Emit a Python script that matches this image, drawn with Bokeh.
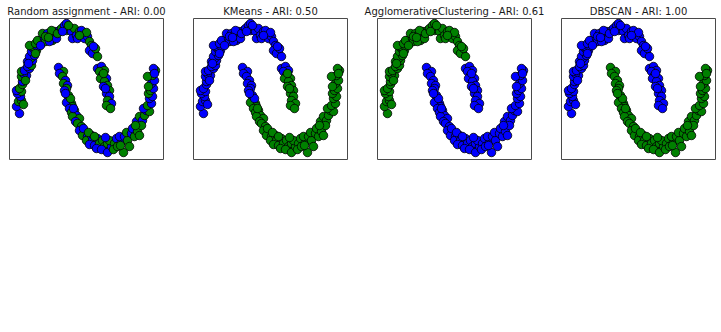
from bokeh.plotting import figure
from bokeh.layouts import row, column
from bokeh.models import Range1d, ColumnDataSource
from bokeh.embed import file_html
from bokeh.resources import INLINE

# Two-moons points (x to the right, y downward, frame units)
upper_x = [10, 7, 9, 12, 11, 8, 12, 7, 10, 14, 13, 13, 15, 12, 17, 14, 12, 15, 20, 18,
           22, 18, 23, 21, 20, 25, 22, 27, 24, 23, 28, 20, 26, 32, 30, 28, 35, 36, 33, 38,
           36, 42, 43, 40, 47, 45, 42, 50, 48, 52, 55, 57, 57, 60, 62, 63, 65, 67, 70, 68,
           73, 72, 75, 78, 77, 80, 82, 80, 85, 83, 88, 86, 88, 92, 95, 90, 93, 97, 91, 95,
           98, 94, 100, 97, 100, 98, 102, 97, 101, 94, 96, 16, 19, 26, 31, 39, 53, 59, 70, 84]
upper_y = [95, 88, 83, 82, 78, 75, 73, 72, 70, 86, 66, 63, 60, 58, 57, 55, 53, 52, 50, 48,
           47, 43, 42, 40, 38, 37, 33, 32, 30, 28, 28, 27, 25, 25, 22, 22, 20, 23, 15, 15,
           18, 17, 22, 23, 20, 13, 12, 12, 15, 10, 7, 5, 12, 10, 13, 20, 10, 17, 13, 20,
           17, 12, 20, 18, 14, 23, 27, 32, 32, 35, 38, 30, 50, 48, 52, 53, 57, 60, 60, 63,
           67, 68, 72, 75, 78, 82, 85, 87, 90, 55, 70, 62, 45, 35, 27, 19, 13, 7, 17, 28]
lower_x = [49, 54, 50, 53, 56, 54, 58, 57, 55, 59, 62, 57, 63, 60, 65, 62, 67, 63, 70, 66,
           68, 72, 70, 75, 73, 78, 77, 82, 83, 80, 85, 88, 90, 87, 93, 95, 92, 98, 98, 102,
           100, 105, 104, 107, 108, 112, 110, 114, 115, 118, 117, 120, 122, 125, 123, 128, 130, 127, 130, 133,
           132, 135, 137, 140, 134, 138, 142, 140, 143, 139, 141, 144, 142, 145, 143, 146, 144, 138, 59, 61,
           64, 74, 79, 96, 111, 126, 139, 145, 56, 85]
lower_y = [49, 53, 55, 58, 62, 65, 67, 70, 72, 82, 85, 84, 88, 90, 92, 94, 97, 98, 100, 103,
           105, 108, 112, 113, 117, 118, 122, 117, 122, 126, 127, 120, 125, 130, 122, 128, 131, 125, 134, 128,
           122, 125, 131, 120, 128, 123, 118, 134, 118, 122, 114, 128, 115, 118, 110, 113, 117, 103, 98, 102,
           107, 97, 92, 93, 90, 87, 85, 80, 78, 75, 72, 70, 65, 62, 57, 52, 50, 58, 77, 80,
           90, 110, 114, 119, 127, 107, 68, 55, 75, 118]

# Cluster labels per panel (0 = blue, 1 = green): upper-moon points, then lower-moon points
random_upper = ["0011001011", "1011001000", "1001000101", "0110010110", "1010011011",
                "0011001010", "0000111010", "1100110011", "1010010111", "0101010110"]
random_lower = ["0101010100", "1010110110", "1101101000", "0010110100", "1110100101",
                "1101011010", "1101010001", "1000110111", "0010111001"]
kmeans_upper = ["0" * 76, "1" * 15, "0" * 9]
kmeans_lower = ["0" * 10, "1" * 68, "00", "1" * 8, "01"]
agglo_upper = ["1" * 72, "0" * 19, "1" * 9]
agglo_lower = ["0" * 90]
dbscan_upper = ["0" * 100]
dbscan_lower = ["1" * 90]

titles = ["Random assignment - ARI: 0.00", "KMeans - ARI: 0.50",
          "AgglomerativeClustering - ARI: 0.61", "DBSCAN - ARI: 1.00"]
colors = ["#0000ff", "#008000"]

xs = upper_x + lower_x
ys = upper_y + lower_y
n = len(xs)


def labels(up, lo):
    s = "".join(up) + "".join(lo)
    s = (s + "0" * n)[:n]
    return [int(ch) for ch in s]


label_sets = [labels(random_upper, random_lower), labels(kmeans_upper, kmeans_lower),
              labels(agglo_upper, agglo_lower), labels(dbscan_upper, dbscan_lower)]

# (figure width, left border, right border) so frames sit at x = 9, 193, 377, 561
borders = [(184, 9, 21), (177, 9, 14), (191, 16, 21), (169, 9, 6)]

figs = []
for (w, bl, br), title, labs in zip(borders, titles, label_sets):
    p = figure(width=w, height=330, output_backend="svg", toolbar_location=None,
               title=title,
               x_axis_location=None, y_axis_location=None,
               x_range=Range1d(0, 154), y_range=Range1d(141, 0),
               min_border_left=bl, min_border_right=br,
               min_border_top=18, min_border_bottom=171)
    p.title.align = "center"
    p.title.text_font = "DejaVu Sans"
    p.title.text_font_size = "10px"
    p.title.text_font_style = "normal"
    p.title.text_color = "#1a1a1a"
    p.title.standoff = 3
    p.title.offset = 0
    p.xgrid.grid_line_color = None
    p.ygrid.grid_line_color = None
    p.background_fill_color = "white"
    p.border_fill_color = "white"
    p.outline_line_color = "#4a4a4a"
    p.outline_line_width = 1
    src = ColumnDataSource(dict(x=xs, y=ys, c=[colors[v] for v in labs]))
    p.scatter("x", "y", source=src, size=8.5, fill_color="c",
              line_color="black", line_width=0.8)
    figs.append(p)

# thin dark rule along the bottom of the page
rule = figure(width=721, height=2, output_backend="svg", toolbar_location=None,
              x_axis_location=None, y_axis_location=None,
              min_border=0, min_border_left=0, min_border_right=0,
              min_border_top=0, min_border_bottom=0)
rule.xgrid.grid_line_color = None
rule.ygrid.grid_line_color = None
rule.background_fill_color = "#222222"
rule.border_fill_color = "#222222"
rule.outline_line_color = None

layout = column(row(*figs, spacing=0), rule, spacing=0)

open("out.html", "w").write(file_html(layout, INLINE))
